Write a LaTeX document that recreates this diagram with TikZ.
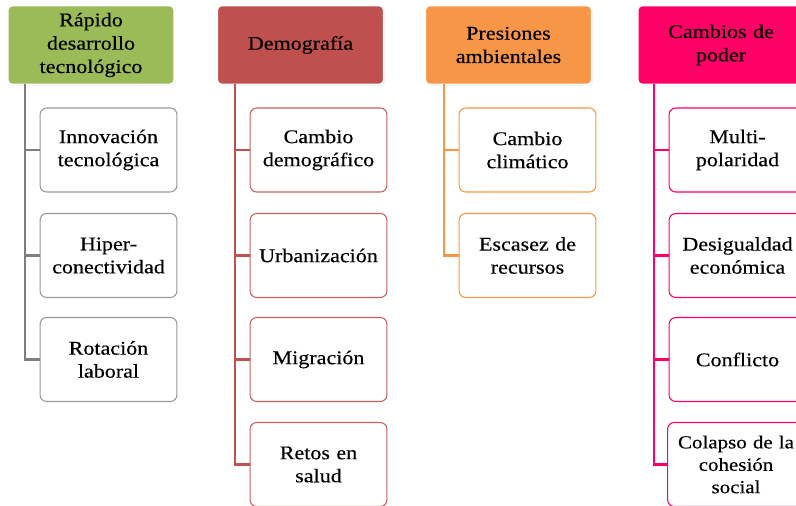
\documentclass[tikz,border=0pt]{standalone}
\usepackage{fontspec}
\setmainfont[FakeStretch=1.14,FakeBold=0.35]{Liberation Serif}
\usetikzlibrary{shadows}
\definecolor{verde}{HTML}{9BBB59}
\definecolor{gris}{HTML}{7F7F7F}
\definecolor{rojo}{HTML}{C0504D}
\definecolor{naranja}{HTML}{F79646}
\definecolor{rosa}{HTML}{FF0066}
\begin{document}
\begin{tikzpicture}[x=0.75pt,y=-0.75pt,
  cabeza/.style={rectangle,rounded corners=3pt,draw=white,line width=1.2pt,
    drop shadow={shadow xshift=0.8pt,shadow yshift=-0.8pt,opacity=0.25},
    minimum width=124pt,minimum height=59pt,text width=118pt,align=center,
    font=\fontsize{14.5}{17.5}\selectfont},
  hijo/.style={rectangle,rounded corners=5pt,fill=white,line width=0.8pt,
    minimum width=100pt,minimum height=63pt,text width=96pt,align=center,
    font=\fontsize{14.5}{17.3}\selectfont},
  rama/.style={line width=2.2pt}]
  \useasboundingbox (0,0) rectangle (796,506);
  \clip (0,0) rectangle (796,506);

  % Rapido desarrollo tecnologico
  \node[cabeza,fill=verde] (c1) at (91,45) {Rápido\\desarrollo\\tecnológico};
  \node[hijo,draw=gris!80] (h11) at (108.5,150) {Innovación\\tecnológica};
  \node[hijo,draw=gris!80] (h12) at (108.5,255.5) {Hiper-\\conectividad};
  \node[hijo,draw=gris!80] (h13) at (108.5,359.5) {Rotación\\laboral};
  \coordinate (r1) at (25,84);
  \draw[rama,gris] (r1) |- (h13.west);
  \draw[rama,gris] (r1 |- h11.west) -- (h11.west);
  \draw[rama,gris] (r1 |- h12.west) -- (h12.west);

  % Demografia
  \node[cabeza,fill=rojo] (c2) at (300.5,45) {Demografía};
  \node[hijo,draw=rojo!90] (h21) at (318.5,150) {Cambio\\demográfico};
  \node[hijo,draw=rojo!90] (h22) at (318.5,255.5) {Urbanización};
  \node[hijo,draw=rojo!90] (h23) at (318.5,359.5) {Migración};
  \node[hijo,draw=rojo!90] (h24) at (318.5,464.5) {Retos en\\salud};
  \coordinate (r2) at (235,84);
  \draw[rama,rojo] (r2) |- (h24.west);
  \draw[rama,rojo] (r2 |- h21.west) -- (h21.west);
  \draw[rama,rojo] (r2 |- h22.west) -- (h22.west);
  \draw[rama,rojo] (r2 |- h23.west) -- (h23.west);

  % Presiones ambientales
  \node[cabeza,fill=naranja] (c3) at (508.5,45) {Presiones\\ambientales};
  \node[hijo,draw=naranja] (h31) at (527.5,150) {Cambio\\climático};
  \node[hijo,draw=naranja] (h32) at (527.5,255.5) {Escasez de\\recursos};
  \coordinate (r3) at (444,84);
  \draw[rama,naranja] (r3) |- (h32.west);
  \draw[rama,naranja] (r3 |- h31.west) -- (h31.west);

  % Cambios de poder
  \node[cabeza,fill=rosa] (c4) at (721,45) {Cambios de\\poder};
  \node[hijo,draw=rosa] (h41) at (737.5,150) {Multi-\\polaridad};
  \node[hijo,draw=rosa] (h42) at (737.5,255.5) {Desigualdad\\económica};
  \node[hijo,draw=rosa] (h43) at (737.5,359.5) {Conflicto};
  \node[hijo,draw=rosa,font=\fontsize{13.8}{16.8}\selectfont] (h44) at (736,464.5) {Colapso de la\\cohesión\\social};
  \coordinate (r4) at (654,84);
  \draw[rama,rosa] (r4) |- (h44.west);
  \draw[rama,rosa] (r4 |- h41.west) -- (h41.west);
  \draw[rama,rosa] (r4 |- h42.west) -- (h42.west);
  \draw[rama,rosa] (r4 |- h43.west) -- (h43.west);
\end{tikzpicture}
\end{document}
